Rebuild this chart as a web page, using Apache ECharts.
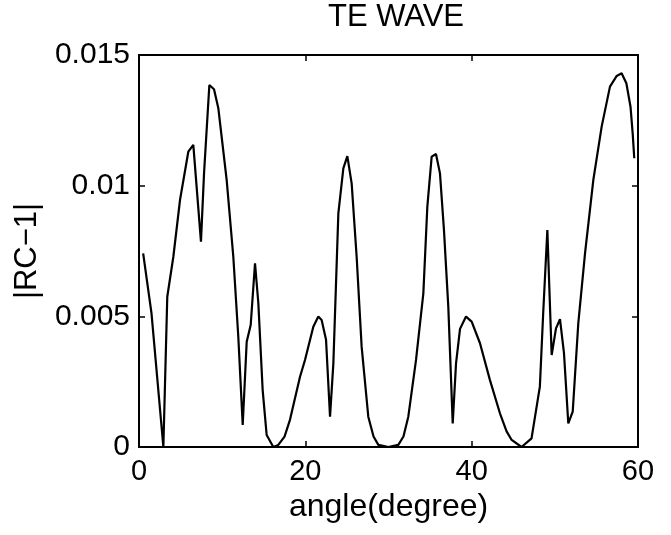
<!DOCTYPE html>
<html>
<head>
<meta charset="utf-8">
<script src="https://cdn.jsdelivr.net/npm/echarts@6/dist/echarts.min.js"></script>
<style>
  html, body { margin: 0; padding: 0; background: #fff; }
  #chart { width: 671px; height: 535px; }
</style>
</head>
<body>
<div id="chart"></div>
<script>
// angle (degree) and |RC-1|
var angles = [0.5, 1.5, 2.93, 3.4, 4.13, 4.93, 5.93, 6.53, 7.45, 7.82, 8.46, 9.02, 9.54, 10.54,
  11.34, 11.94, 12.47, 12.95, 13.43, 13.95, 14.35, 14.87, 15.35, 16.15, 16.75, 17.5, 18.16,
  19.36, 19.96, 20.96, 21.56, 21.96, 22.49, 22.97, 23.37, 23.97, 24.57, 25.05, 25.57, 26.17,
  26.77, 27.57, 28.2, 28.78, 29.98, 31.18, 31.8, 32.38, 33.31, 34.19, 34.67, 35.19, 35.71,
  36.19, 36.67, 37.19, 37.72, 38.12, 38.6, 39.32, 40.0, 41.0, 42.2, 43.4, 44.2, 44.81, 46.0,
  47.2, 48.2, 48.6, 49.1, 49.62, 50.14, 50.62, 51.1, 51.62, 52.15, 52.82, 53.63, 54.63,
  55.63, 56.63, 57.44, 58.03, 58.6, 59.1, 59.36, 59.55];
var rcValues = [0.00741, 0.00512, 0, 0.00575, 0.00728, 0.00945, 0.0113, 0.01156, 0.00786,
  0.01047, 0.01385, 0.01369, 0.01296, 0.01022, 0.00728, 0.00422, 0.00084, 0.00403, 0.00467,
  0.00703, 0.0055, 0.00218, 0.00046, 0, 0.00008, 0.0004, 0.00105, 0.00269, 0.00333, 0.0046,
  0.00499, 0.00486, 0.0041, 0.00116, 0.0032, 0.00894, 0.01066, 0.01113, 0.01009, 0.00728,
  0.00384, 0.00116, 0.0004, 0.00008, 0, 0.00008, 0.0004, 0.00116, 0.00333, 0.00588, 0.0092,
  0.01111, 0.01121, 0.01047, 0.0083, 0.00537, 0.0009, 0.0032, 0.00452, 0.00499, 0.0048,
  0.00397, 0.00256, 0.00129, 0.0006, 0.00027, 0, 0.00033, 0.00231, 0.00512, 0.0083, 0.00352,
  0.00454, 0.00489, 0.00359, 0.0009, 0.00135, 0.00473, 0.00741, 0.01022, 0.01226, 0.01379,
  0.0142, 0.0143, 0.01392, 0.01302, 0.012, 0.01105];

var xTicks = [0, 20, 40, 60];
var yTicks = [0, 0.005, 0.01, 0.015];

var font = 'Liberation Sans, Arial, Helvetica, sans-serif';

var points = angles.map(function (a, i) { return [a, rcValues[i]]; });

// fresh objects for each axis
let tick = () => ({ show: true, inside: true, length: 6, lineStyle: { color: '#000', width: 1.5 } });
let line = () => ({ show: true, onZero: false, lineStyle: { color: '#000', width: 2 } });

var option = {
  backgroundColor: '#fff',
  animation: false,
  title: {
    text: 'TE WAVE',
    left: 391,
    top: -3,
    textAlign: 'center',
    textStyle: { fontFamily: font, fontSize: 31, fontWeight: 'normal', color: '#000' }
  },
  grid: {
    left: 139, right: 33, top: 55, bottom: 88,
    show: true, borderColor: '#000', borderWidth: 2, backgroundColor: 'transparent'
  },
  xAxis: [{
    type: 'value',
    position: 'bottom',
    min: 0, max: 60, interval: 20,
    name: 'angle(degree)',
    nameLocation: 'middle',
    nameGap: 40,
    nameTextStyle: { fontFamily: font, fontSize: 32, color: '#000' },
    axisLine: line(),
    axisTick: tick(),
    splitLine: { show: false },
    axisLabel: {
      margin: 10,
      fontFamily: font, fontSize: 29, color: '#000',
      formatter: v => xTicks.indexOf(v) >= 0 ? String(v) : ''
    }
  }, {
    type: 'value', position: 'top',
    min: 0, max: 60, interval: 20,
    axisLine: line(),
    axisTick: tick(),
    axisLabel: { show: false },
    splitLine: { show: false }
  }],
  yAxis: [{
    type: 'value',
    position: 'left',
    min: 0, max: 0.015, interval: 0.005,
    name: '|RC\u22121|',
    nameLocation: 'middle',
    nameGap: 96,
    nameTextStyle: { fontFamily: font, fontSize: 31, color: '#000' },
    axisLine: line(),
    axisTick: tick(),
    splitLine: { show: false },
    axisLabel: {
      margin: 9,
      fontFamily: font, fontSize: 30, color: '#000',
      formatter: function (v) {
        var i = yTicks.findIndex(t => Math.abs(t - v) < 1e-9);
        return i >= 0 ? String(yTicks[i]) : '';
      }
    }
  }, {
    type: 'value', position: 'right',
    min: 0, max: 0.015, interval: 0.005,
    axisLine: line(),
    axisTick: tick(),
    axisLabel: { show: false },
    splitLine: { show: false }
  }],
  series: [{
    type: 'line',
    data: points,
    showSymbol: false,
    symbol: 'none',
    lineStyle: { color: '#000', width: 2.2 },
    z: 3
  }, {
    // empty series so the mirrored top/right axes are drawn
    type: 'line',
    xAxisIndex: 1,
    yAxisIndex: 1,
    data: [],
    symbol: 'none'
  }]
};

var chart = echarts.init(document.getElementById('chart'));
chart.setOption(option);
</script>
</body>
</html>
